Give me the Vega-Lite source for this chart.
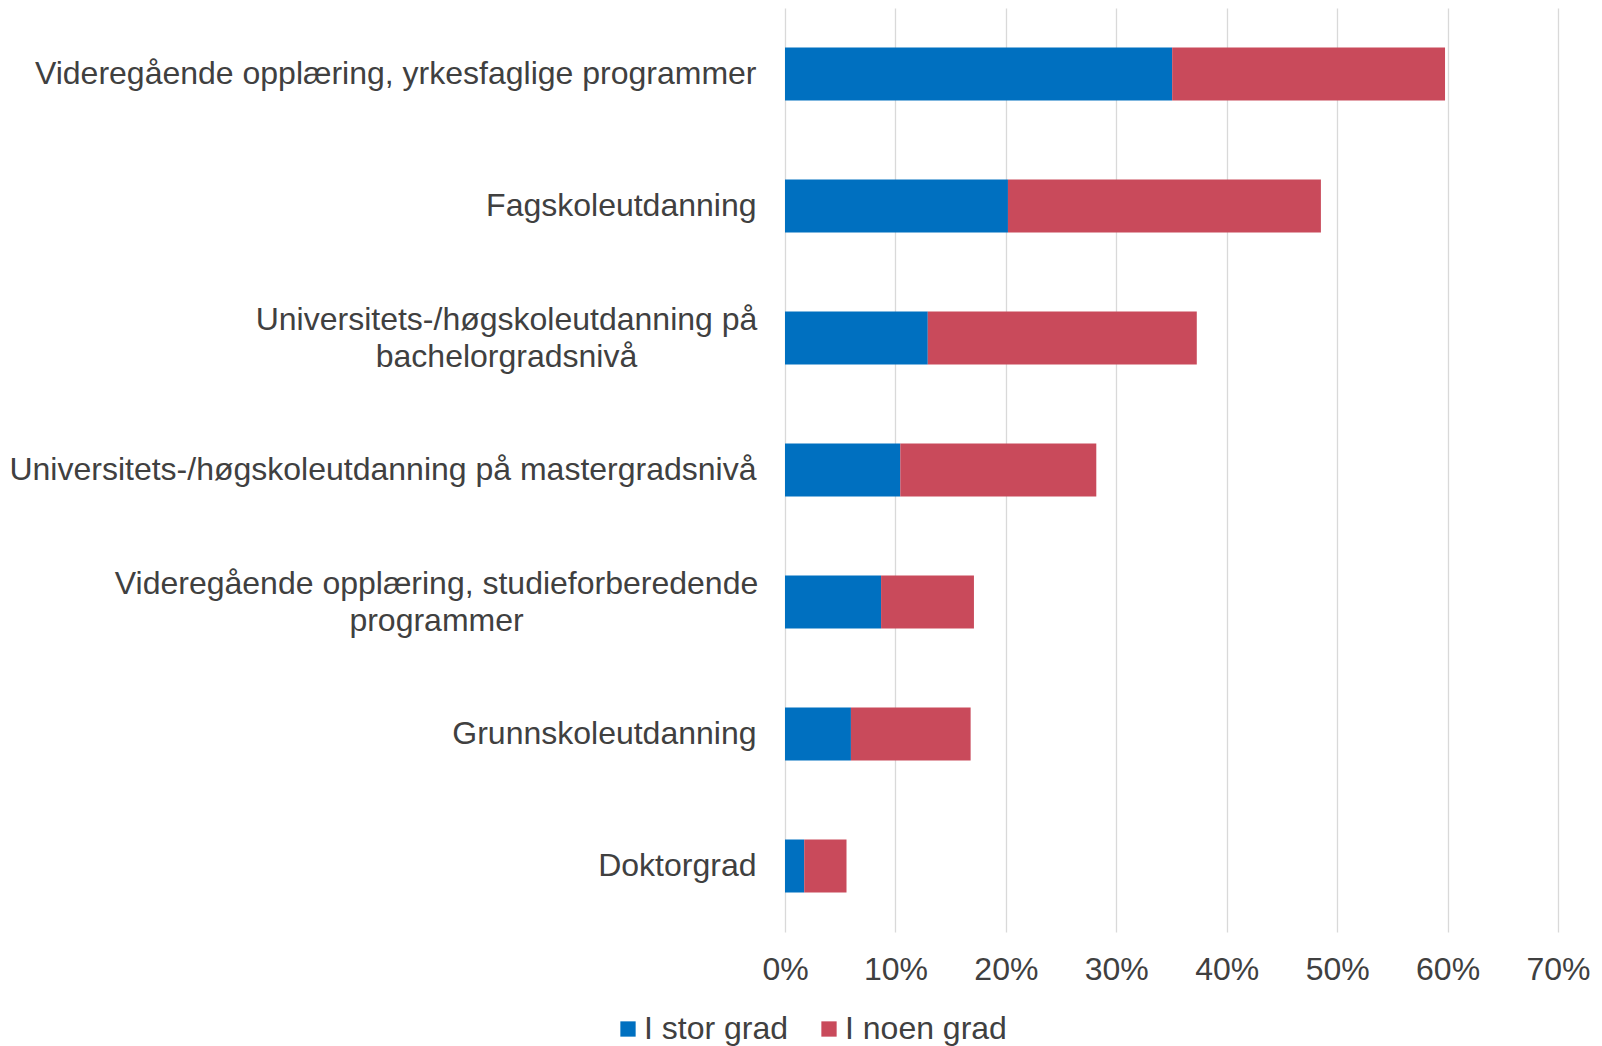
{
  "$schema": "https://vega.github.io/schema/vega-lite/v6.json",
  "autosize": {"type": "none"},
  "padding": {"left": 785, "top": 8, "right": 44, "bottom": 114},
  "width": 773,
  "height": 924,
  "background": "white",
  "config": {
    "view": {"stroke": null},
    "font": "Liberation Sans",
    "axis": {"labelFont": "Liberation Sans", "labelColor": "#404040", "labelFontSize": 32},
    "legend": {"labelFont": "Liberation Sans", "labelColor": "#404040", "labelFontSize": 32}
  },
  "data": {
    "values": [
      {"kategori": "Videregående opplæring, yrkesfaglige programmer", "serie": "I stor grad", "rekkefolge": 1, "andel": 0.3506},
      {"kategori": "Videregående opplæring, yrkesfaglige programmer", "serie": "I noen grad", "rekkefolge": 2, "andel": 0.2471},
      {"kategori": "Fagskoleutdanning", "serie": "I stor grad", "rekkefolge": 1, "andel": 0.2019},
      {"kategori": "Fagskoleutdanning", "serie": "I noen grad", "rekkefolge": 2, "andel": 0.2834},
      {"kategori": "Universitets-/høgskoleutdanning på bachelorgradsnivå", "serie": "I stor grad", "rekkefolge": 1, "andel": 0.1293},
      {"kategori": "Universitets-/høgskoleutdanning på bachelorgradsnivå", "serie": "I noen grad", "rekkefolge": 2, "andel": 0.2436},
      {"kategori": "Universitets-/høgskoleutdanning på mastergradsnivå", "serie": "I stor grad", "rekkefolge": 1, "andel": 0.1044},
      {"kategori": "Universitets-/høgskoleutdanning på mastergradsnivå", "serie": "I noen grad", "rekkefolge": 2, "andel": 0.1775},
      {"kategori": "Videregående opplæring, studieforberedende programmer", "serie": "I stor grad", "rekkefolge": 1, "andel": 0.0870},
      {"kategori": "Videregående opplæring, studieforberedende programmer", "serie": "I noen grad", "rekkefolge": 2, "andel": 0.0841},
      {"kategori": "Grunnskoleutdanning", "serie": "I stor grad", "rekkefolge": 1, "andel": 0.0597},
      {"kategori": "Grunnskoleutdanning", "serie": "I noen grad", "rekkefolge": 2, "andel": 0.1084},
      {"kategori": "Doktorgrad", "serie": "I stor grad", "rekkefolge": 1, "andel": 0.0174},
      {"kategori": "Doktorgrad", "serie": "I noen grad", "rekkefolge": 2, "andel": 0.0383}
    ]
  },
  "mark": {"type": "bar"},
  "encoding": {
    "y": {
      "field": "kategori",
      "type": "nominal",
      "sort": null,
      "scale": {"paddingInner": 0.6, "paddingOuter": 0.3},
      "axis": {
        "title": null,
        "domain": false,
        "ticks": false,
        "grid": false,
        "labelLimit": 0,
        "labelLineHeight": 37,
        "labelBaseline": "middle",
        "labelExpr": "datum.value == 'Universitets-/høgskoleutdanning på bachelorgradsnivå' ? ['Universitets-/høgskoleutdanning på', 'bachelorgradsnivå'] : datum.value == 'Videregående opplæring, studieforberedende programmer' ? ['Videregående opplæring, studieforberedende', 'programmer'] : datum.label",
        "labelAlign": {
          "condition": {"test": "datum.value == 'Universitets-/høgskoleutdanning på bachelorgradsnivå' || datum.value == 'Videregående opplæring, studieforberedende programmer'", "value": "center"},
          "value": "right"
        },
        "labelOffset": {
          "condition": {"test": "datum.value == 'Universitets-/høgskoleutdanning på bachelorgradsnivå' || datum.value == 'Videregående opplæring, studieforberedende programmer'", "value": -18},
          "value": 0
        },
        "labelPadding": {
          "condition": [
            {"test": "datum.value == 'Universitets-/høgskoleutdanning på bachelorgradsnivå'", "value": 279},
            {"test": "datum.value == 'Videregående opplæring, studieforberedende programmer'", "value": 349}
          ],
          "value": 29
        }
      }
    },
    "x": {
      "field": "andel",
      "type": "quantitative",
      "stack": "zero",
      "scale": {"domain": [0, 0.7], "nice": false},
      "axis": {
        "title": null,
        "format": ".0%",
        "values": [0, 0.1, 0.2, 0.3, 0.4, 0.5, 0.6, 0.7],
        "domain": false,
        "ticks": false,
        "grid": true,
        "gridColor": "#D9D9D9",
        "gridWidth": 1.3,
        "labelPadding": 22,
        "labelFlush": false
      }
    },
    "order": {"field": "rekkefolge", "type": "quantitative"},
    "color": {
      "field": "serie",
      "type": "nominal",
      "scale": {"domain": ["I stor grad", "I noen grad"], "range": ["#0070C0", "#C94A5B"]},
      "legend": {
        "title": null,
        "orient": "none",
        "direction": "horizontal",
        "legendX": -173,
        "legendY": 1005,
        "symbolType": "square",
        "symbolSize": 234,
        "symbolStrokeWidth": 0,
        "labelOffset": 0,
        "labelLimit": 0,
        "columnPadding": 24,
        "padding": 0
      }
    }
  }
}
